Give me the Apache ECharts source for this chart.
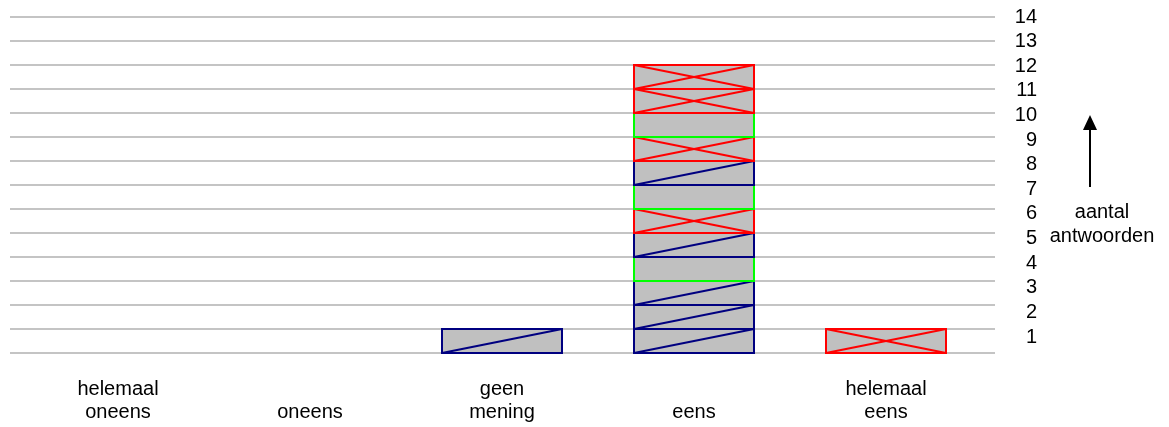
<!DOCTYPE html>
<html>
<head>
<meta charset="utf-8">
<script src="https://cdn.jsdelivr.net/npm/echarts@6/dist/echarts.min.js"></script>
<style>
html,body{margin:0;padding:0;background:#fff;}
#c{width:1169px;height:427px;}
</style>
</head>
<body>
<div id="c"></div>
<script>
// Categories (answer options)
const categories = ['helemaal\noneens', 'oneens', 'geen\nmening', 'eens', 'helemaal\neens'];
// Stacked responses per category, bottom to top. B = blue (diagonal), G = green (plain), R = red (cross)
const helemaalOneens = [];
const oneens = [];
const geenMening = ['B'];
const eens = ['B', 'B', 'B', 'G', 'B', 'R', 'G', 'B', 'R', 'G', 'R', 'R'];
const helemaalEens = ['R'];
// Y tick labels
const yTicks = [1, 2, 3, 4, 5, 6, 7, 8, 9, 10, 11, 12, 13, 14];
const yMax = 14;
const axisTitle = 'aantal\nantwoorden';

const stacks = [helemaalOneens, oneens, geenMening, eens, helemaalEens];
const typeCodes = ['B', 'G', 'R'];
const data = [];
stacks.forEach((s, ci) => s.forEach((t, li) => data.push([ci, li + 1, typeCodes.indexOf(t)])));

const strokeCols = ['#000080', '#00ff00', '#ff0000'];

function renderItem(params, api) {
  const ci = api.value(0), lvl = api.value(1), t = api.value(2);
  const p0 = api.coord([ci, lvl - 1]);
  const p1 = api.coord([ci, lvl]);
  const bw = api.size([1, 0])[0] * 0.625;
  const l = p0[0] - bw / 2, r = p0[0] + bw / 2, top = p1[1], bot = p0[1];
  const col = strokeCols[t];
  const children = [{
    type: 'rect',
    shape: {x: l, y: top, width: bw, height: bot - top},
    style: {fill: '#c0c0c0', stroke: col, lineWidth: 2}
  }];
  if (t === 0 || t === 2) {
    children.push({type: 'line', shape: {x1: l, y1: bot, x2: r, y2: top}, style: {stroke: col, lineWidth: 2}});
  }
  if (t === 2) {
    children.push({type: 'line', shape: {x1: l, y1: top, x2: r, y2: bot}, style: {stroke: col, lineWidth: 2}});
  }
  return {type: 'group', children: children};
}

const font = 'Liberation Sans, Arial, sans-serif';
const chart = echarts.init(document.getElementById('c'), null, {renderer: 'canvas'});
chart.setOption({
  animation: false,
  backgroundColor: '#ffffff',
  grid: [
    {left: 22, right: 187, top: 17, height: 336},
    {left: 10, right: 174, top: 17, height: 336},
    {left: 10, right: 174, top: 17, height: 344.6}
  ],
  xAxis: [
    {gridIndex: 0, type: 'category', data: categories,
      axisLine: {show: false}, axisTick: {show: false}, splitLine: {show: false},
      axisLabel: {
        color: '#000', fontFamily: font, fontSize: 20, lineHeight: 23, margin: 25, interval: 0,
        formatter: v => v.indexOf('\n') < 0 ? ' \n' + v : v
      }},
    {gridIndex: 1, type: 'value', show: false},
    {gridIndex: 2, type: 'value', show: false}
  ],
  yAxis: [
    {gridIndex: 0, type: 'value', min: 0, max: yMax, interval: 1, show: false},
    {gridIndex: 1, type: 'value', min: 0, max: yMax, interval: 1,
      axisLine: {show: false}, axisTick: {show: false}, axisLabel: {show: false},
      splitLine: {show: true, lineStyle: {color: '#c4c4c4', width: 2}}},
    {gridIndex: 2, type: 'value', min: 0, max: yMax, interval: 1, position: 'right',
      axisLine: {show: false}, axisTick: {show: false}, splitLine: {show: false},
      axisLabel: {color: '#000', fontFamily: font, fontSize: 20, align: 'right', margin: 42,
        formatter: v => yTicks.indexOf(v) >= 0 ? String(v) : ''}}
  ],
  series: [{
    type: 'custom',
    xAxisIndex: 0, yAxisIndex: 0,
    renderItem: renderItem,
    encode: {x: 0, y: 1},
    data: data,
    clip: false
  }],
  graphic: [
    {type: 'line', shape: {x1: 1090, y1: 128, x2: 1090, y2: 187}, style: {stroke: '#000', lineWidth: 2}},
    {type: 'polygon', shape: {points: [[1090, 115], [1083, 130], [1097, 130]]}, style: {fill: '#000'}},
    {type: 'text', x: 1102, y: 224, style: {text: axisTitle, fill: '#000', font: '20px ' + font,
      align: 'center', verticalAlign: 'middle', lineHeight: 24}}
  ]
});
</script>
</body>
</html>
